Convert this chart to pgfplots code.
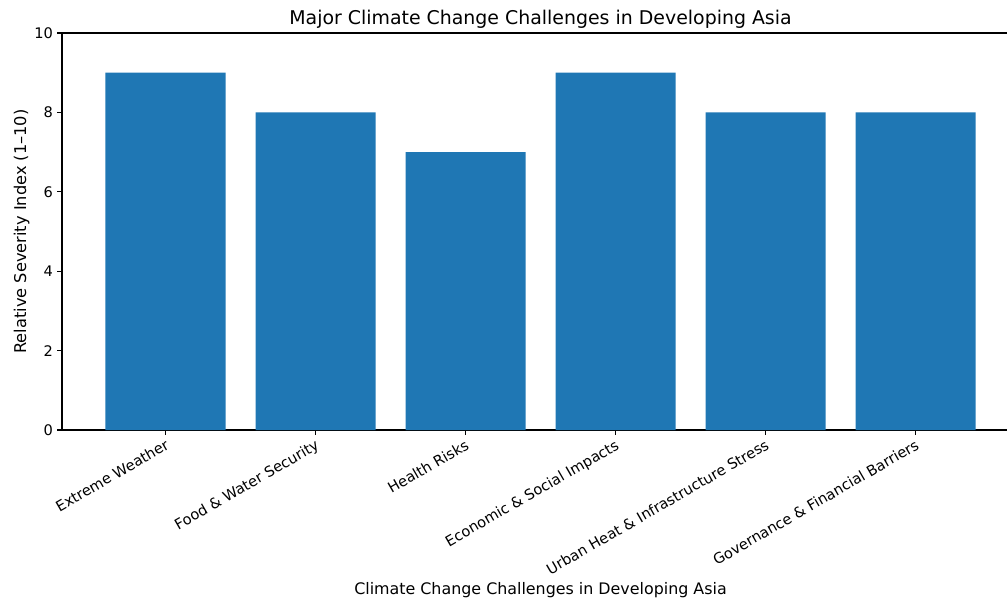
\documentclass[border=0pt]{standalone}
\usepackage{pgfplots}
\pgfplotsset{compat=1.18}
\usepackage{fontspec}
\setmainfont{DejaVu Sans}
\definecolor{barblue}{HTML}{1F77B4}
\begin{document}
\begin{tikzpicture}[x=0.74pt,y=0.74pt]
\useasboundingbox (-62,-168) rectangle (945,430);
\clip (-62,-168) rectangle (945,430);
\begin{axis}[
  at={(0,0)}, anchor=south west,
  scale only axis,
  width=708.18pt, height=293.78pt,
  xmin=-0.69, xmax=5.69, ymin=0, ymax=10,
  ybar, bar width=0.8,
  xtick={0,1,2,3,4,5},
  xticklabels={Extreme Weather, Food \& Water Security, Health Risks, Economic \& Social Impacts, Urban Heat \& Infrastructure Stress, Governance \& Financial Barriers},
  ytick={0,2,4,6,8,10},
  xtick pos=lower, ytick pos=left,
  tick align=outside,
  major tick length=3.5pt,
  tick style={black, line width=0.8pt},
  axis line style={black, line width=0.8pt},
  /pgf/number format/assume math mode=true,
  tick label style={font=\fontsize{10.8}{13}\selectfont, text=black},
  xticklabel style={rotate=30, anchor=north east, inner sep=2pt},
  yticklabel style={inner sep=3pt},
  title={Major Climate Change Challenges in Developing Asia},
  title style={font=\fontsize{14}{16}\selectfont, at={(rel axis cs:0.5,1.0008)}, anchor=base},
  xlabel={Climate Change Challenges in Developing Asia},
  xlabel style={font=\fontsize{11.75}{14}\selectfont, at={(rel axis cs:0.5,-0.4156)}, anchor=base},
  ylabel={Relative Severity Index (1–10)},
  ylabel style={font=\fontsize{12}{14}\selectfont, at={(rel axis cs:-0.0376,0.5)}, anchor=base, rotate=0},
]
\addplot[fill=barblue, draw=none] coordinates {(0,9) (1,8) (2,7) (3,9) (4,8) (5,8)};
\end{axis}
\end{tikzpicture}
\end{document}
